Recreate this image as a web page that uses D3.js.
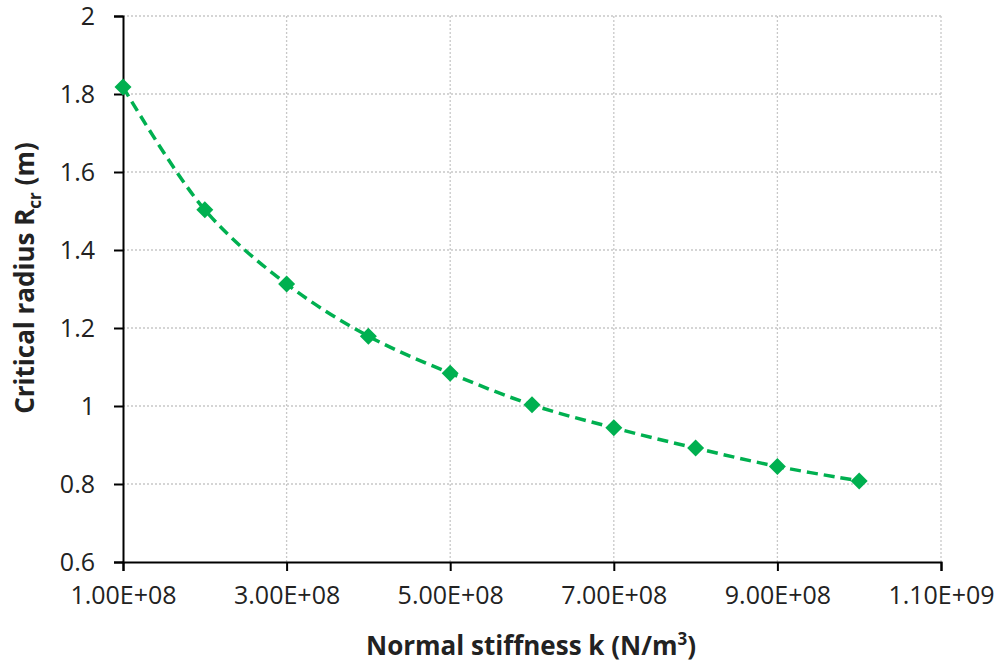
<!DOCTYPE html>
<html>
<head>
<meta charset="utf-8">
<script src="https://cdn.jsdelivr.net/npm/d3@7"></script>
<style>
    body { margin: 0; background: #fff; }
    text { font-family: 'Open Sans', 'Liberation Sans', sans-serif; fill: #222; }
</style>
</head>
<body>
<div id="chart"></div>
<script>
// normal stiffness k (N/m3) vs critical radius Rcr (m)
var stiffness = [1e8, 2e8, 3e8, 4e8, 5e8, 6e8, 7e8, 8e8, 9e8, 1e9];
var radius = [1.818, 1.503, 1.313, 1.179, 1.084, 1.003, 0.944, 0.892, 0.845, 0.808];
var xTicks = [1e8, 3e8, 5e8, 7e8, 9e8, 1.1e9];
var yTicks = [0.6, 0.8, 1, 1.2, 1.4, 1.6, 1.8, 2];

var W = 995, H = 662;
var margin = {top: 16, right: 54, bottom: 100, left: 123};
var width = W - margin.left - margin.right,
    height = H - margin.top - margin.bottom;

var svg = d3.select('#chart').append('svg')
    .attr('width', W)
    .attr('height', H);
var chart = svg.append('g')
    .attr('transform', 'translate(' + margin.left + ',' + margin.top + ')');

// scales
var xScale = d3.scaleLinear().domain([1e8, 1.1e9]).range([0, width]);
var yScale = d3.scaleLinear().domain([0.6, 2]).range([height, 0]);

// grid
chart.append('g').selectAll('line.hgrid')
    .data(yTicks.slice(1))
    .enter().append('line').classed('hgrid', true)
    .attr('x1', 0).attr('x2', width)
    .attr('y1', function(d) { return yScale(d); })
    .attr('y2', function(d) { return yScale(d); })
    .style('stroke', '#c8c8c8')
    .style('stroke-width', 1.3)
    .style('stroke-dasharray', '2,2');
chart.append('g').selectAll('line.vgrid')
    .data(xTicks.slice(1))
    .enter().append('line').classed('vgrid', true)
    .attr('x1', function(d) { return xScale(d); })
    .attr('x2', function(d) { return xScale(d); })
    .attr('y1', 0).attr('y2', height)
    .style('stroke', '#c8c8c8')
    .style('stroke-width', 1.3)
    .style('stroke-dasharray', '2,2');

// axes
function styleAxis(g) {
    g.select('.domain').style('stroke', '#000').style('stroke-width', 2);
    g.selectAll('.tick line').style('stroke', '#000').style('stroke-width', 2);
    g.selectAll('.tick text').style('font-size', '25px').style('fill', '#222');
}
var yAxis = d3.axisLeft(yScale)
    .tickValues(yTicks)
    .tickSize(9).tickSizeOuter(9)
    .tickPadding(19)
    .tickFormat(function(d) { return d3.format('~g')(d); });
chart.append('g').call(yAxis).call(styleAxis);

var xAxis = d3.axisBottom(xScale)
    .tickValues(xTicks)
    .tickSize(9).tickSizeOuter(9)
    .tickPadding(15)
    .tickFormat(function(d) {
        return d3.format('.2e')(d).toUpperCase().replace(/E\+(\d)$/, 'E+0$1');
    });
chart.append('g').attr('transform', 'translate(0,' + height + ')')
    .call(xAxis).call(styleAxis);

// series
var line = d3.line()
    .x(function(d, i) { return xScale(stiffness[i]); })
    .y(function(d) { return yScale(d); })
    .curve(d3.curveCatmullRom.alpha(0.5));
chart.append('path')
    .datum(radius)
    .attr('d', line)
    .style('fill', 'none')
    .style('stroke', '#00b050')
    .style('stroke-width', 3.5)
    .style('stroke-dasharray', '11,6');

chart.selectAll('path.marker')
    .data(radius)
    .enter().append('path').classed('marker', true)
    .attr('d', 'M0,-8.5L8.5,0L0,8.5L-8.5,0Z')
    .attr('transform', function(d, i) {
        return 'translate(' + xScale(stiffness[i]) + ',' + yScale(d) + ')';
    })
    .style('fill', '#00b050');

// axis titles
var xTitle = svg.append('text')
    .attr('x', 531)
    .attr('y', 655)
    .attr('text-anchor', 'middle')
    .style('font-size', '26px')
    .style('font-weight', 700);
xTitle.append('tspan').text('Normal stiffness k (N/m');
xTitle.append('tspan').text('3').attr('dy', -10).style('font-size', '17px');
xTitle.append('tspan').text(')').attr('dy', 10);

var yTitle = svg.append('text')
    .attr('transform', 'translate(34,278) rotate(-90)')
    .attr('text-anchor', 'middle')
    .style('font-size', '26px')
    .style('font-weight', 700);
yTitle.append('tspan').text('Critical radius R');
yTitle.append('tspan').text('cr').attr('dy', 7).style('font-size', '17px');
yTitle.append('tspan').text(' (m)').attr('dy', -7);
</script>
</body>
</html>
